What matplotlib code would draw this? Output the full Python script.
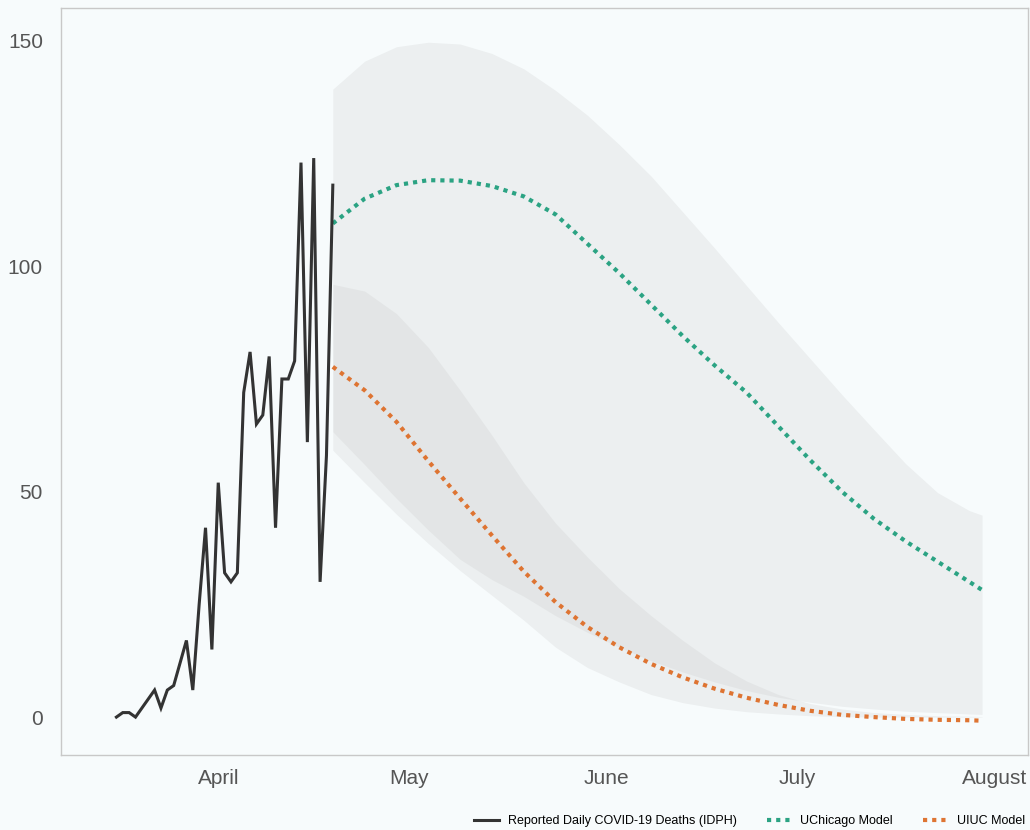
import matplotlib
matplotlib.use('Agg')
import matplotlib.pyplot as plt
import matplotlib.dates as mdates
import pandas as pd

# reported daily deaths, 16 March - 19 April 2020
report_dates = pd.date_range('2020-03-16', '2020-04-19', freq='D')
reported = [0, 1, 1, 0, 2, 4, 6, 2, 6, 7, 12, 17, 6, 25, 42, 15, 52, 32,
            30, 32, 72, 81, 65, 67, 80, 42, 75, 75, 79, 123, 61, 124, 30, 58, 118]

# model projections
model_dates = pd.to_datetime([
    '2020-04-19', '2020-04-24', '2020-04-29', '2020-05-04', '2020-05-09',
    '2020-05-14', '2020-05-19', '2020-05-24', '2020-05-29', '2020-06-03',
    '2020-06-08', '2020-06-13', '2020-06-18', '2020-06-23', '2020-06-28',
    '2020-07-03', '2020-07-08', '2020-07-13', '2020-07-18', '2020-07-23',
    '2020-07-28', '2020-07-30'])

uchicago_mid = [109.5, 115, 118, 119.1, 119, 117.8, 115.5, 111.5, 105, 98.5,
                91.5, 84.5, 78, 72, 64.5, 57, 50, 44, 39, 34.5, 30, 28.2]
uchicago_hi = [139.3, 145.5, 148.7, 149.7, 149.3, 147.2, 143.8, 139, 133.5, 127,
               120, 112, 104, 95.7, 87.5, 79.5, 71.5, 63.8, 56.2, 49.8, 45.8, 44.8]
uchicago_lo = [63.3, 56, 48.5, 41.5, 35, 30.5, 26.8, 22.5, 18.8, 15.5,
               12.5, 10, 7.8, 5.9, 4.4, 3.3, 2.4, 1.8, 1.3, 1.0, 0.7, 0.6]

uiuc_mid = [77.7, 72.5, 65.5, 56.8, 48.5, 40.3, 32.3, 25.5, 20, 15.5,
            11.8, 8.8, 6.3, 4.3, 2.7, 1.4, 0.5, 0, -0.4, -0.6, -0.7, -0.8]
uiuc_hi = [96, 94.5, 89.5, 82, 72.5, 62.5, 52, 43, 35.5, 28.5,
           22.5, 17, 12, 8, 5, 3, 1.8, 1.0, 0.6, 0.3, 0.2, 0.1]
uiuc_lo = [59.2, 52, 45, 38.5, 32.5, 27, 21.5, 15.5, 11, 7.8,
           5, 3.2, 2, 1.2, 0.7, 0.3, 0.1, 0, 0, 0, 0, 0]

y_ticks = [0, 50, 100, 150]
month_ticks = pd.to_datetime(['2020-04-01', '2020-05-01', '2020-06-01',
                              '2020-07-01', '2020-08-01'])

plt.rcParams['font.family'] = ['Liberation Sans', 'DejaVu Sans']

bg = '#f7fbfc'
green = '#2ba383'
orange = '#de7432'

fig = plt.figure(figsize=(10.3, 8.3), dpi=100, facecolor=bg)
ax = fig.add_axes([0.0592, 0.0904, 0.9388, 0.9])
ax.set_facecolor(bg)

# 置信区间
ax.fill_between(model_dates, uchicago_lo, uchicago_hi, color='#c0c0c0',
                alpha=0.2, lw=0, zorder=1)
ax.fill_between(model_dates, uiuc_lo, uiuc_hi, color='#c0c0c0',
                alpha=0.2, lw=0, zorder=1)

ax.plot(report_dates, reported, color='#333333', lw=2.2, zorder=4,
        solid_joinstyle='miter', label='Reported Daily COVID-19 Deaths (IDPH)')
ax.plot(model_dates, uchicago_mid, color=green, lw=3, dashes=(1, 1.2),
        zorder=3, label='UChicago Model')
ax.plot(model_dates, uiuc_mid, color=orange, lw=3, dashes=(1, 1.2),
        zorder=3, label='UIUC Model')

ax.set_xlim(pd.Timestamp('2020-03-07 07:00'), pd.Timestamp('2020-08-06 05:00'))
ax.set_ylim(-8.4, 157.3)

ax.set_yticks(y_ticks)
ax.set_xticks(month_ticks)
ax.xaxis.set_major_formatter(mdates.DateFormatter('%B'))
ax.tick_params(axis='both', length=0, labelsize=15, labelcolor='#555555')
ax.tick_params(axis='y', pad=13)
ax.tick_params(axis='x', pad=10)

for s in ax.spines.values():
    s.set_color('#c8c8c8')
    s.set_linewidth(1)

fig.legend(loc='lower right', bbox_to_anchor=(1.006, -0.01), ncol=3,
           frameon=False, fontsize=9, handlelength=2.0, handletextpad=0.7,
           columnspacing=2.4)

fig.savefig('out.png', dpi=100, facecolor=bg)
